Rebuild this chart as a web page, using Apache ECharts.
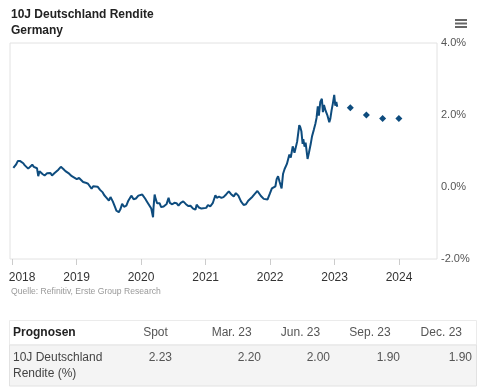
<!DOCTYPE html>
<html>
<head>
<meta charset="utf-8">
<script src="https://cdn.jsdelivr.net/npm/echarts@6/dist/echarts.min.js"></script>
<style>
html,body{margin:0;padding:0;background:#fff;}
#chart{width:480px;height:390px;}
</style>
</head>
<body>
<div id="chart"></div>
<script>
// ---- data ----
const dates = [
'2018-01-08','2018-01-16','2018-01-24','2018-02-02','2018-02-09','2018-02-16','2018-02-23','2018-03-05','2018-03-14','2018-03-23',
'2018-04-02','2018-04-12','2018-04-25','2018-05-04','2018-05-15','2018-05-22','2018-05-29','2018-06-05','2018-06-12','2018-06-22',
'2018-07-04','2018-07-18','2018-07-27','2018-08-06','2018-08-15','2018-08-28','2018-09-07','2018-09-20','2018-10-04','2018-10-10',
'2018-10-18','2018-10-30','2018-11-08','2018-11-20','2018-12-05','2018-12-13','2019-01-02','2019-01-15','2019-01-25','2019-02-07',
'2019-02-21','2019-03-07','2019-03-15','2019-03-27','2019-04-05','2019-04-16','2019-04-30','2019-05-14','2019-05-29','2019-06-07',
'2019-06-20','2019-07-03','2019-07-12','2019-07-25','2019-08-07','2019-08-15','2019-08-28','2019-09-06','2019-09-16','2019-09-27',
'2019-10-10','2019-10-21','2019-11-07','2019-11-20','2019-12-03','2019-12-17','2020-01-08','2020-01-15','2020-01-24','2020-02-03',
'2020-02-14','2020-02-28','2020-03-09','2020-03-12','2020-03-18','2020-03-24','2020-04-01','2020-04-15','2020-04-24','2020-05-08',
'2020-05-25','2020-06-05','2020-06-12','2020-06-26','2020-07-08','2020-07-20','2020-07-31','2020-08-13','2020-08-27','2020-09-10',
'2020-09-24','2020-10-07','2020-10-22','2020-11-04','2020-11-11','2020-11-24','2020-12-08','2020-12-18','2021-01-04','2021-01-14',
'2021-01-27','2021-02-10','2021-02-25','2021-03-05','2021-03-18','2021-03-31','2021-04-12','2021-04-28','2021-05-12','2021-05-25',
'2021-06-09','2021-06-21','2021-07-05','2021-07-20','2021-08-04','2021-08-17','2021-08-30','2021-09-10','2021-09-23','2021-10-05',
'2021-10-21','2021-10-29','2021-11-10','2021-11-26','2021-12-06','2021-12-17','2021-12-31','2022-01-11','2022-01-21','2022-01-31',
'2022-02-07','2022-02-15','2022-02-24','2022-03-07','2022-03-15','2022-03-24','2022-04-06','2022-04-20','2022-04-28','2022-05-09',
'2022-05-19','2022-05-26','2022-06-03','2022-06-15','2022-06-21','2022-06-27','2022-07-04','2022-07-08','2022-07-15','2022-07-21',
'2022-08-01','2022-08-09','2022-08-19','2022-08-26','2022-09-05','2022-09-14','2022-09-21','2022-09-28','2022-10-04','2022-10-12',
'2022-10-21','2022-10-27','2022-11-02','2022-11-11','2022-11-22','2022-12-02','2022-12-08','2022-12-15','2022-12-22','2022-12-30',
'2023-01-05','2023-01-11','2023-01-16'
];
const yields = [
0.53,0.58,0.63,0.72,0.76,0.72,0.69,0.66,0.60,0.55,
0.51,0.55,0.62,0.56,0.61,0.52,0.30,0.44,0.46,0.36,
0.32,0.38,0.41,0.39,0.32,0.38,0.39,0.48,0.56,0.58,
0.50,0.44,0.43,0.37,0.30,0.30,0.22,0.25,0.22,0.14,
0.12,0.09,0.08,-0.05,0.02,0.05,0.01,-0.08,-0.15,-0.23,
-0.30,-0.38,-0.28,-0.40,-0.56,-0.66,-0.70,-0.62,-0.47,-0.55,
-0.52,-0.38,-0.24,-0.34,-0.32,-0.24,-0.21,-0.18,-0.32,-0.40,
-0.40,-0.60,-0.84,-0.55,-0.21,-0.33,-0.45,-0.45,-0.56,-0.54,
-0.47,-0.30,-0.44,-0.48,-0.44,-0.45,-0.52,-0.44,-0.40,-0.47,
-0.53,-0.52,-0.60,-0.63,-0.49,-0.57,-0.60,-0.57,-0.58,-0.50,
-0.54,-0.45,-0.23,-0.30,-0.27,-0.30,-0.28,-0.20,-0.12,-0.20,
-0.26,-0.17,-0.24,-0.40,-0.50,-0.48,-0.38,-0.33,-0.27,-0.20,
-0.11,-0.14,-0.25,-0.33,-0.38,-0.35,-0.18,-0.04,-0.06,0.02,
0.22,0.30,0.14,-0.04,0.36,0.50,0.64,0.90,0.82,1.13,
0.95,0.96,1.26,1.72,1.66,1.55,1.20,1.33,1.12,1.23,
0.78,0.96,1.20,1.40,1.58,1.75,1.92,2.24,1.98,2.36,
2.45,2.08,2.28,2.12,1.98,1.80,1.90,2.13,2.31,2.56,
2.26,2.36,2.23
];
const forecastDates = ['2023-03-31','2023-06-30','2023-09-30','2023-12-31'];
const forecastValues = [2.20, 2.00, 1.90, 1.90];
const forecastLabels = ['Mar. 23','Jun. 23','Sep. 23','Dec. 23'];
const spotValue = 2.23;
const tickYears = ['2018','2019','2020','2021','2022','2023','2024'];
const titleText = '10J Deutschland Rendite';
const subtitleText = 'Germany';
const sourceText = 'Quelle: Refinitiv, Erste Group Research';
const tableTitle = 'Prognosen';
const spotLabel = 'Spot';
const rowLabel = ['10J Deutschland', 'Rendite (%)'];

// ---- chart ----
const FONT = '"Liberation Sans", Arial, sans-serif';
const BLUE = '#0e4c7e';
const ts = d => Date.UTC(+d.slice(0,4), +d.slice(5,7) - 1, +d.slice(8,10));
const yearTicks = tickYears.map(y => ts(y + '-01-01'));
const firstTick = yearTicks[0];

const lineData = dates.map((d, i) => [ts(d), yields[i]]);
const fcData = forecastDates.map((d, i) => [ts(d), forecastValues[i]]);

// table layout
const headerCols = [spotLabel].concat(forecastLabels);
const headerX = [155.5, 231.7, 300.5, 370, 441.3];
const valueRight = [172, 261, 330, 400, 472];
const tableVals = [spotValue].concat(forecastValues).map(v => v.toFixed(2));

const graphics = [
  {type:'text', style:{x:11, y:15, text:titleText, font:'bold 12px ' + FONT, fill:'#222', textVerticalAlign:'middle', verticalAlign:'middle'}},
  {type:'text', style:{x:11, y:31, text:subtitleText, font:'bold 12px ' + FONT, fill:'#222', textVerticalAlign:'middle', verticalAlign:'middle'}},
  {type:'rect', shape:{x:455, y:19, width:12, height:2}, style:{fill:'#666'}},
  {type:'rect', shape:{x:455, y:22.5, width:12, height:2}, style:{fill:'#666'}},
  {type:'rect', shape:{x:455, y:26, width:12, height:2}, style:{fill:'#666'}},
  {type:'text', style:{x:11, y:291.5, text:sourceText, font:'8.6px ' + FONT, fill:'#999', textVerticalAlign:'middle', verticalAlign:'middle'}},
  {type:'rect', shape:{x:9.5, y:320.5, width:467, height:24.5}, style:{fill:'#fff', stroke:'#ebebeb', lineWidth:1}},
  {type:'rect', shape:{x:9.5, y:345, width:467, height:41}, style:{fill:'#f4f4f4', stroke:'#e2e2e2', lineWidth:1}},
  {type:'text', style:{x:13, y:332.5, text:tableTitle, font:'bold 12px ' + FONT, fill:'#222', textVerticalAlign:'middle', verticalAlign:'middle'}},
  {type:'text', style:{x:13, y:357.5, text:rowLabel[0], font:'12px ' + FONT, fill:'#444', textVerticalAlign:'middle', verticalAlign:'middle'}},
  {type:'text', style:{x:13, y:373.5, text:rowLabel[1], font:'12px ' + FONT, fill:'#444', textVerticalAlign:'middle', verticalAlign:'middle'}}
];
headerCols.forEach((h, i) => {
  graphics.push({type:'text', style:{x:headerX[i], y:332.5, text:h, font:'12px ' + FONT, fill:'#555', textAlign:'center', align:'center', textVerticalAlign:'middle', verticalAlign:'middle'}});
});
tableVals.forEach((v, i) => {
  graphics.push({type:'text', style:{x:valueRight[i], y:357.5, text:v, font:'12px ' + FONT, fill:'#555', textAlign:'right', align:'right', textVerticalAlign:'middle', verticalAlign:'middle'}});
});

const chart = echarts.init(document.getElementById('chart'), null, {renderer:'canvas'});
chart.setOption({
  animation: false,
  backgroundColor: '#fff',
  textStyle: {fontFamily: FONT},
  grid: {left:10, right:43, top:43, bottom:131, show:true, borderColor:'#e2e2e2', borderWidth:1, backgroundColor:'#fff', containLabel:false},
  xAxis: {
    type: 'value',
    position: 'bottom',
    min: ts('2017-12-20'),
    max: ts('2024-08-03'),
    axisLine: {show:false, onZero:false},
    axisTick: {show:true, customValues: yearTicks, length:6, lineStyle:{color:'#ccc'}},
    splitLine: {show:false},
    axisLabel: {
      customValues: yearTicks,
      color:'#333', fontSize:12, margin:13, hideOverlap:false, showMinLabel:true, showMaxLabel:true,
      formatter: function (v) {
        const y = String(new Date(v).getUTCFullYear());
        return (v === firstTick) ? '{f|' + y + '}' : y;
      },
      rich: {f: {padding:[0,0,0,20], color:'#333', fontSize:12, fontFamily: FONT}}
    }
  },
  yAxis: {
    type: 'value',
    position: 'right',
    min: -2, max: 4, interval: 2,
    axisLine: {show:false, onZero:false},
    axisTick: {show:false},
    splitLine: {show:false},
    axisLabel: {color:'#555', fontSize:11, margin:4, formatter: v => v.toFixed(1) + '%'}
  },
  series: [
    {type:'line', data: lineData, showSymbol:false, symbol:'none', lineStyle:{color:BLUE, width:2}, itemStyle:{color:BLUE}},
    {type:'scatter', data: fcData, symbol:'diamond', symbolSize:7, itemStyle:{color:BLUE, opacity:1}}
  ],
  graphic: graphics
});
</script>
</body>
</html>
